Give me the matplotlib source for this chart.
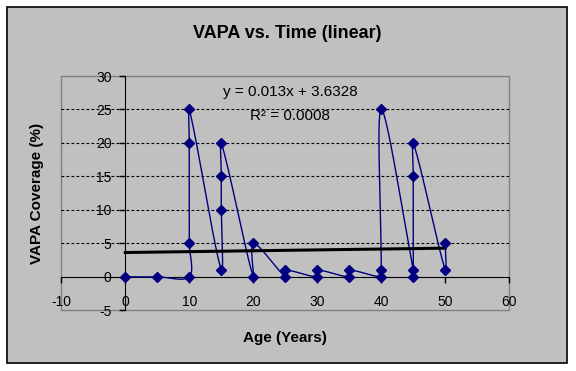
import numpy as np
import matplotlib
matplotlib.use('Agg')
import matplotlib.pyplot as plt
from matplotlib.patches import Rectangle

plt.rcParams['font.family'] = ['Liberation Sans', 'DejaVu Sans']
plt.rcParams['axes.unicode_minus'] = False

# data, in the order the series was plotted
age = [0, 5, 10, 10, 10, 10, 15, 15, 15, 15, 20, 20, 25, 25, 30, 30, 35, 35,
       40, 40, 40, 45, 45, 45, 45, 50, 50]
cover = [0, 0, 0, 5, 20, 25, 1, 10, 15, 20, 0, 5, 0, 1, 0, 1, 0, 1,
         0, 1, 25, 1, 0, 15, 20, 1, 5]
trend_slope = 0.013
trend_int = 3.6328
trend_r2 = 0.0008
trend_x = [0, 50]

xticks = [-10, 0, 10, 20, 30, 40, 50, 60]
yticks = [-5, 0, 5, 10, 15, 20, 25, 30]

navy = '#000080'
bg = '#C0C0C0'


def smooth(xs, ys, ky=1.0, n=30):
    # excel-ish smoothed line: bezier, control pts weighted by segment lengths
    p = np.column_stack([np.asarray(xs, float), np.asarray(ys, float) * ky])
    m = len(p)
    fwd = np.zeros_like(p)
    back = np.zeros_like(p)
    for i in range(m):
        a = p[i - 1] if i > 0 else p[i]
        b = p[i + 1] if i < m - 1 else p[i]
        d = b - a
        lp = np.hypot(*(p[i] - a))
        ln = np.hypot(*(b - p[i]))
        if lp + ln == 0:
            continue
        fwd[i] = d * ln / (lp + ln) / 3
        back[i] = d * lp / (lp + ln) / 3
    out = [p[0]]
    t = np.linspace(0, 1, n)[1:, None]
    for i in range(m - 1):
        c1 = p[i] + fwd[i]
        c2 = p[i + 1] - back[i + 1]
        seg = ((1 - t) ** 3) * p[i] + 3 * ((1 - t) ** 2) * t * c1 + 3 * (1 - t) * t ** 2 * c2 + t ** 3 * p[i + 1]
        out.extend(seg)
    out = np.array(out)
    return out[:, 0], out[:, 1] / ky


fig = plt.figure(figsize=(5.76, 3.71), dpi=100, facecolor='white')
fig.patches.append(Rectangle((7 / 576, 8 / 371), 560 / 576, 356 / 371,
                             transform=fig.transFigure, facecolor=bg,
                             edgecolor='black', linewidth=1.2, zorder=-5))

ax = fig.add_axes([61.3 / 576, 1 - 310.3 / 371, 448 / 576, 234.3 / 371])
ax.set_zorder(2)
ax.set_facecolor(bg)
ax.set_xlim(-10, 60)
ax.set_ylim(-5, 30)

# gray plot frame
ax.add_patch(Rectangle((0, 0), 1, 1, transform=ax.transAxes, fill=False,
                       edgecolor='#808080', linewidth=1.0, clip_on=False, zorder=1))
for s in ['top', 'right']:
    ax.spines[s].set_visible(False)
ax.spines['left'].set_position(('data', 0))
ax.spines['bottom'].set_position(('data', 0))
ax.spines['left'].set_color('black')
ax.spines['bottom'].set_color('black')
ax.spines['left'].set_zorder(2)
ax.spines['bottom'].set_zorder(2)

for yv in yticks[2:-1]:
    ax.axhline(yv, color='black', linewidth=0.8, linestyle=(0, (2.5, 2)), zorder=1)

ax.set_xticks(xticks)
ax.set_yticks(yticks)
ax.tick_params(axis='x', direction='out', length=4, width=1, pad=9, labelsize=10)
ax.tick_params(axis='y', direction='out', length=4, width=1, pad=6, labelsize=10)

sx, sy = smooth(age, cover, ky=6.69 / 6.4)
ax.plot(sx, sy, color=navy, linewidth=1.0, zorder=3)
ax.plot(age, cover, linestyle='none', marker='D', markersize=5.5,
        color=navy, zorder=4)

tx = np.array(trend_x, float)
ax.plot(tx, trend_slope * tx + trend_int, color='black', linewidth=2.2, zorder=3)

fig.text(290 / 576, 1 - 92 / 371, 'y = %.3fx + %.4f' % (trend_slope, trend_int),
         fontsize=11, ha='center', va='center', zorder=5)
fig.text(290 / 576, 1 - 115.5 / 371, 'R² = %.4f' % trend_r2, fontsize=11,
         ha='center', va='center', zorder=5)

fig.text(287 / 576, 1 - 34 / 371, 'VAPA vs. Time (linear)', fontsize=13,
         fontweight='bold', ha='center', va='center')
fig.text(285 / 576, 1 - 338 / 371, 'Age (Years)', fontsize=11,
         fontweight='bold', ha='center', va='center')
fig.text(37 / 576, 1 - 193 / 371, 'VAPA Coverage (%)', fontsize=11,
         fontweight='bold', ha='center', va='center', rotation=90)

fig.savefig('out.png', dpi=100, facecolor='white')
